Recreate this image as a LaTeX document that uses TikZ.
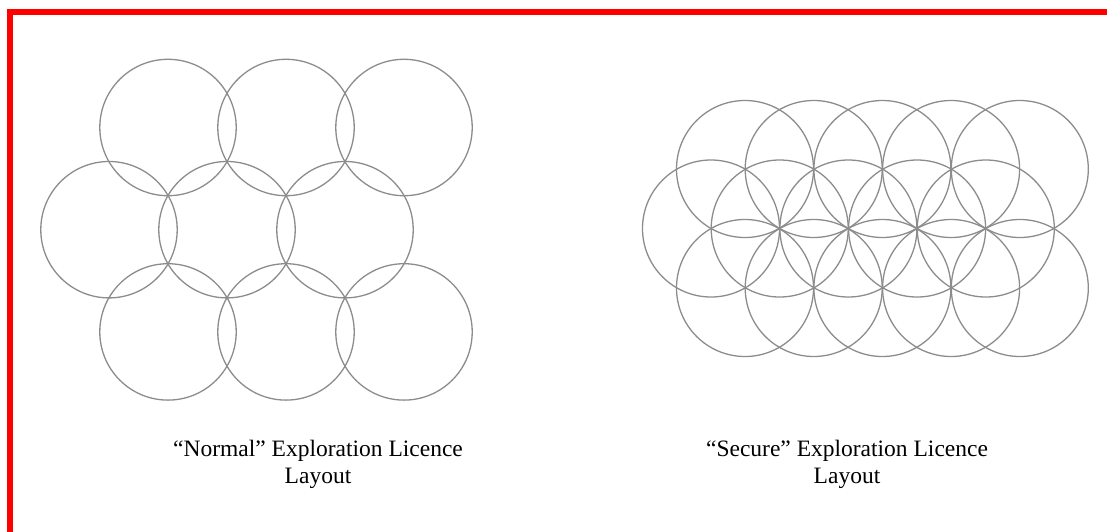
\documentclass[tikz,border=0pt]{standalone}
\usepackage{fontspec}
\setmainfont{Liberation Serif}
\begin{document}
\begin{tikzpicture}[x=1pt,y=-1pt,
  ring/.style={draw=black!45,line width=1.3pt},
  caption/.style={align=center,inner sep=0pt,font=\fontsize{23.5}{27}\selectfont}]
\useasboundingbox (0,0) rectangle (1107,531);
% red frame (top and left only)
\draw[red,line width=6pt,line join=miter] (10.3,540) -- (10.3,12) -- (1120,12);
% Normal layout
\foreach \x in {168,286,404} {
  \draw[ring] (\x,127.5) circle (68.2);
  \draw[ring] (\x,331.9) circle (68.2);
}
\foreach \x in {109,227,345} {
  \draw[ring] (\x,229.7) circle (68.2);
}
% Secure layout
\foreach \k in {0,...,4} {
  \draw[ring] (745+\k*68.7,169) circle (68.5);
  \draw[ring] (745+\k*68.7,288) circle (68.5);
  \draw[ring] (711+\k*68.7,228.5) circle (68.5);
}
\node[caption] (normal) at (318,464) {“Normal” Exploration Licence\\Layout};
\node[caption] (secure) at (847,464) {“Secure” Exploration Licence\\Layout};
\end{tikzpicture}
\end{document}
